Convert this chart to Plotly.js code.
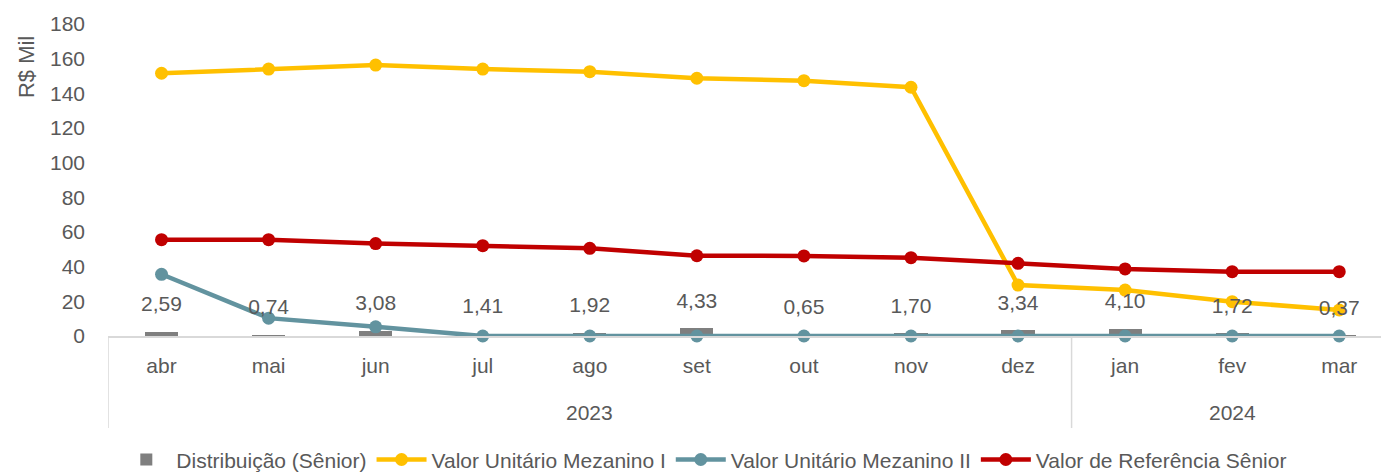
<!DOCTYPE html>
<html>
<head>
<meta charset="utf-8">
<script src="https://cdn.plot.ly/plotly-3.0.1.min.js"></script>
<style>html,body{margin:0;padding:0;background:#fff;}#chart{width:1381px;height:474px;}</style>
</head>
<body>
<div id="chart"></div>
<script>
const years = ["2023","2023","2023","2023","2023","2023","2023","2023","2023","2024","2024","2024"];
const months = ["abr","mai","jun","jul","ago","set","out","nov","dez","jan","fev","mar"];
const distribuicao = [2.59, 0.74, 3.08, 1.41, 1.92, 4.33, 0.65, 1.70, 3.34, 4.10, 1.72, 0.37];
const mezaninoI = [151.6, 154.0, 156.3, 154.0, 152.5, 148.7, 147.3, 143.5, 29.4, 26.5, 19.8, 15.0];
const mezaninoII = [35.6, 10.3, 5.3, 0, 0, 0, 0, 0, 0, 0, 0, 0];
const referenciaSenior = [55.6, 55.6, 53.3, 52.1, 50.6, 46.3, 46.2, 45.2, 41.9, 38.7, 37.1, 37.1];

const FONT = "'Liberation Sans', Arial, sans-serif";
const TXT = "#595959";
const GRID = "#d9d9d9";

const traces = [
  {type:"bar", name:"Distribuição (Sênior)", x:months, y:distribuicao, width:0.31,
   marker:{color:"#7f7f7f"}, hoverinfo:"skip"},
  {type:"scatter", mode:"lines+markers", name:"Valor Unitário Mezanino I", x:months, y:mezaninoI, cliponaxis:false,
   line:{color:"#ffc000", width:4.5}, marker:{color:"#ffc000", size:13}},
  {type:"scatter", mode:"lines+markers", name:"Valor Unitário Mezanino II", x:months, y:mezaninoII, cliponaxis:false,
   line:{color:"#62939f", width:4.5}, marker:{color:"#62939f", size:13}},
  {type:"scatter", mode:"lines+markers", name:"Valor de Referência Sênior", x:months, y:referenciaSenior, cliponaxis:false,
   line:{color:"#c00000", width:4.5}, marker:{color:"#c00000", size:13}},
  {type:"scatter", mode:"text", x:months, y:distribuicao.map(v => v + 14.8), cliponaxis:false,
   text:distribuicao.map(v => v.toFixed(2).replace(".", ",")),
   textposition:"middle center", textfont:{family:FONT, size:21, color:TXT},
   showlegend:false, hoverinfo:"skip"}
];

// year group labels and dividers derived from the years array
const groups = [];
years.forEach((y, i) => {
  const g = groups.length && groups[groups.length-1].name === y ? groups[groups.length-1] : null;
  if (g) g.end = i; else groups.push({name:y, start:i, end:i});
});
const annotations = groups.map(g => ({
  text:g.name, xref:"x", yref:"paper", x:(g.start + g.end) / 2, y:-0.2436,
  xanchor:"center", yanchor:"middle", showarrow:false, font:{family:FONT, size:21, color:TXT}
}));
annotations.push({text:"R$ Mil", textangle:-90, xref:"paper", yref:"paper", x:-0.0644, y:0.862,
  xanchor:"center", yanchor:"middle", showarrow:false, font:{family:FONT, size:22, color:TXT}});
const shapes = groups.map(g => ({
  type:"line", xref:"x", yref:"paper", x0:g.start - 0.5, x1:g.start - 0.5, y0:0, y1:-0.295,
  line:{color:GRID, width:1.5}
}));

const layout = {
  width:1381, height:474,
  margin:{l:108, r:0, t:24, b:138, autoexpand:false},
  paper_bgcolor:"#fff", plot_bgcolor:"#fff",
  font:{family:FONT, size:21, color:TXT},
  showlegend:true,
  legend:{orientation:"h", xref:"container", x:0.51, xanchor:"center", yref:"paper", y:-0.397, yanchor:"middle",
          font:{family:FONT, size:21, color:TXT}, traceorder:"normal", itemwidth:50, tracegroupgap:0},
  bargap:0,
  xaxis:{type:"category", range:[-0.5, 11.39], showline:true, linecolor:GRID, linewidth:1.5,
         ticks:"", showgrid:false, zeroline:false, ticklabelstandoff:10,
         tickfont:{family:FONT, size:21, color:TXT}},
  yaxis:{range:[0,180], dtick:20, tick0:0, showgrid:false, zeroline:false, showline:false, ticks:"",
         tickfont:{family:FONT, size:21, color:TXT}, ticklabelstandoff:22},
  annotations:annotations,
  shapes:shapes
};

Plotly.newPlot("chart", traces, layout, {displayModeBar:false, staticPlot:true});
</script>
</body>
</html>
